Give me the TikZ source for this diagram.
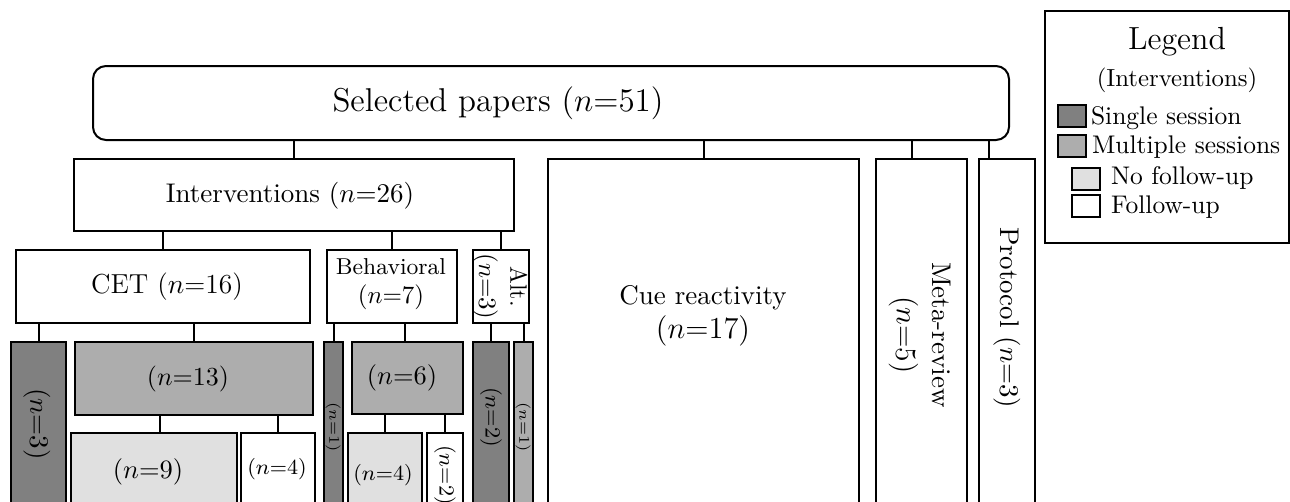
\RequirePackage{fix-cm}
\documentclass[tikz,border=0pt]{standalone}
\usepackage{fontspec}
\usetikzlibrary{calc}
\definecolor{sgl}{gray}{0.50}
\definecolor{mlt}{gray}{0.68}
\definecolor{nfu}{gray}{0.88}
\newcommand{\fs}[1]{\fontsize{#1}{1.2\dimexpr#1pt\relax}\selectfont}
\tikzset{
  box/.style={draw,rectangle,inner sep=0pt,outer sep=0pt},
  sz/.style 2 args={minimum width=#1*0.4pt,minimum height=#2*0.4pt},
  single/.style={box,fill=sgl},
  multi/.style={box,fill=mlt},
  nofu/.style={box,fill=nfu},
  fu/.style={box,fill=white},
  txt/.style={inner sep=0pt,align=center},
  vtxt/.style={txt,rotate=-90},
  conn/.style={draw,line width=0.8pt}
}
\begin{document}
\begin{tikzpicture}[x=0.4pt,y=-0.4pt,line width=0.8pt]
\useasboundingbox (0,0) rectangle (1290,501);
\clip (0,0) rectangle (1290,501);

% top level
\node[box,sz={916}{74},rounded corners=5.2pt] (sel) at (551,103) {};
\node[txt] (seltxt) at (498,103) {\fs{13.2}Selected papers ($n$=51)};

% categories
\node[box,sz={440}{72}] (interv) at (294,195) {};
\node[txt] (intervtxt) at (290,196) {\fs{10.8}Interventions ($n$=26)};
\node[box,sz={311}{371}] (cue) at (703.5,344.5) {};
\node[txt] (cuetxt) at (703,316) {\fs{10.8}Cue reactivity\\[1.5pt]{\fs{12.2}($n$=17)}};
\node[box,sz={91}{371}] (meta) at (921.5,344.5) {};
\node[vtxt] (metatxt) at (920,335) {\fs{10.8}Meta-review\\[2pt]{\fs{11.8}($n$=5)}};
\node[box,sz={56}{371}] (proto) at (1007,344.5) {};
\node[vtxt] (prototxt) at (1007,318) {\fs{10.8}Protocol ($n$=3)};

% intervention types
\node[box,sz={294}{73}] (cet) at (163,286.5) {};
\node[txt] (cettxt) at (167,286.5) {\fs{11}CET ($n$=16)};
\node[box,sz={130}{73}] (beh) at (392,286.5) {};
\node[txt] (behtxt) at (391,284) {\fs{9.2}Behavioral\\[-0.5pt]($n$=7)};
\node[box,sz={56}{73}] (alt) at (501,286.5) {};
\node[vtxt] (alttxt) at (500,286.5) {\fs{9.5}Alt.\\[0.5pt]($n$=3)};

% sessions: CET
\node[single,sz={55}{188}] (cs) at (38.5,436) {};
\node[vtxt] (cstxt) at (37,424) {\fs{10.8}($n$=3)};
\node[multi,sz={238}{73}] (cm) at (194,378.5) {};
\node[txt] (cmtxt) at (188,379) {\fs{10.4}($n$=13)};
\node[nofu,sz={166}{97}] (cmn) at (154,481.5) {};
\node[txt] (cmntxt) at (148,472) {\fs{10.6}($n$=9)};
\node[fu,sz={74}{97}] (cmf) at (278,481.5) {};
\node[txt] (cmftxt) at (277,469) {\fs{8.6}($n$=4)};

% sessions: behavioral
\node[single,sz={19}{188}] (bs) at (333.5,436) {};
\node[vtxt] (bstxt) at (333,427) {\fs{6}($n$=1)};
\node[multi,sz={111}{72}] (bm) at (407.5,378) {};
\node[txt] (bmtxt) at (402,378) {\fs{10.6}($n$=6)};
\node[nofu,sz={74}{97}] (bmn) at (385,481.5) {};
\node[txt] (bmntxt) at (383,475) {\fs{8.6}($n$=4)};
\node[fu,sz={36}{97}] (bmf) at (445,481.5) {};
\node[vtxt] (bmftxt) at (445,475) {\fs{8.6}($n$=2)};

% sessions: alternative
\node[single,sz={36}{188}] (as) at (491,436) {};
\node[vtxt] (astxt) at (491,417) {\fs{8.7}($n$=2)};
\node[multi,sz={19}{188}] (am) at (523.5,436) {};
\node[vtxt] (amtxt) at (523,427) {\fs{6}($n$=1)};

% connectors
\draw[conn] (interv.north) -- (interv.north |- sel.south);
\draw[conn] (cue.north) -- (cue.north |- sel.south);
\draw[conn] ([xshift=-3.8pt]meta.north) -- ([xshift=-3.8pt]meta.north |- sel.south);
\draw[conn] ([xshift=-7.2pt]proto.north) -- ([xshift=-7.2pt]proto.north |- sel.south);
\draw[conn] (cet.north) -- (cet.north |- interv.south);
\draw[conn] (beh.north) -- (beh.north |- interv.south);
\draw[conn] (alt.north) -- (alt.north |- interv.south);
\draw[conn] (cs.north) -- (cs.north |- cet.south);
\draw[conn] (cm.north) -- (cm.north |- cet.south);
\draw[conn] ([xshift=2.4pt]cmn.north) -- ([xshift=2.4pt]cmn.north |- cm.south);
\draw[conn] (cmf.north) -- (cmf.north |- cm.south);
\draw[conn] (bs.north) -- (bs.north |- beh.south);
\draw[conn] ([xshift=-1pt]bm.north) -- ([xshift=-1pt]bm.north |- beh.south);
\draw[conn] (bmn.north) -- (bmn.north |- bm.south);
\draw[conn] (bmf.north) -- (bmf.north |- bm.south);
\draw[conn] (as.north) -- (as.north |- alt.south);
\draw[conn] (am.north) -- (am.north |- alt.south);

% legend
\node[box,sz={244}{232}] (leg) at (1167,127) {};
\node[txt] (legtitle) at (1177,42) {\fs{12.8}Legend};
\node[txt] (legsub) at (1177,80) {\fs{9.9}(Interventions)};
\node[single,sz={28}{22}] (sw1) at (1072,116) {};
\node[multi,sz={28}{22}] (sw2) at (1072,146) {};
\node[nofu,sz={28}{22}] (sw3) at (1086,179) {};
\node[fu,sz={28}{22}] (sw4) at (1086,206) {};
\node[txt,anchor=base west] (lb1) at (1090,124) {\fs{10.2}Single session};
\node[txt,anchor=base west] (lb2) at (1091,153) {\fs{10.2}Multiple sessions};
\node[txt,anchor=base west] (lb3) at (1110,184) {\fs{10.2}No follow-up};
\node[txt,anchor=base west] (lb4) at (1110,213) {\fs{10.2}Follow-up};
\end{tikzpicture}
\end{document}
